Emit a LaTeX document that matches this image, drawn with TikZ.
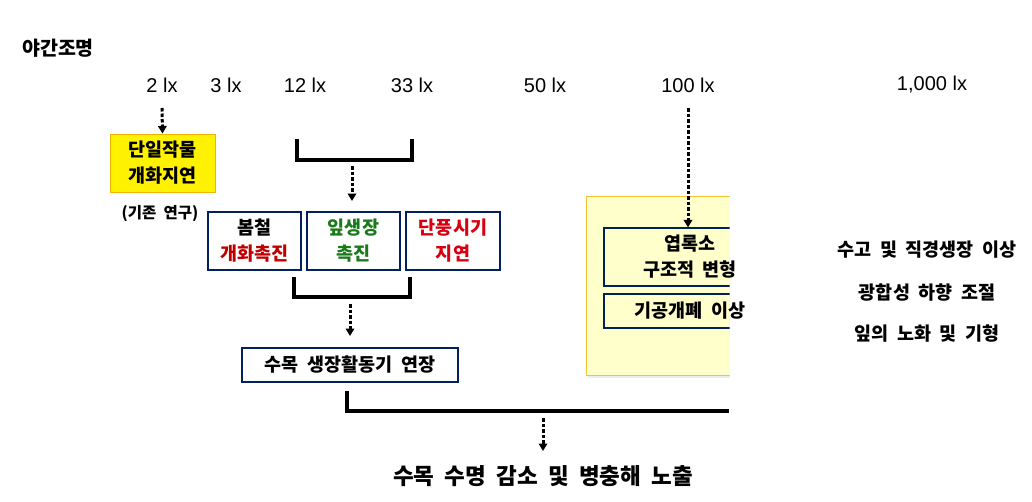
\documentclass[tikz,border=0pt]{standalone}
\usepackage{fontspec}
\setmainfont{Liberation Sans}
\newfontfamily\kr{Noto Sans CJK KR}[WordSpace=2]
\usetikzlibrary{arrows.meta,shadows}
\definecolor{navy}{HTML}{002060}
\definecolor{gold}{HTML}{F0B400}
\definecolor{paleyel}{HTML}{FFFFCC}
\definecolor{darkred}{HTML}{C00000}
\definecolor{brred}{HTML}{D80010}
\definecolor{leafgreen}{HTML}{1A7A1A}
\tikzset{
  lx/.style={font=\fontsize{20}{20}\selectfont, inner sep=0pt},
  kt/.style={font=\kr\bfseries\fontsize{18.5}{26}\selectfont, align=center, inner sep=0pt},
  nbox/.style={draw=navy, line width=1.2pt, minimum height=58pt, align=center, inner sep=0pt, font=\kr\bfseries\fontsize{18.5}{26}\selectfont},
  dotarrow/.style={line width=3pt, dash pattern=on 3.5pt off 2pt, -{Triangle[width=8.5pt,length=7.5pt]}},
  bracket/.style={line width=3.2pt, line cap=butt, line join=miter},
}
\begin{document}
\begin{tikzpicture}[x=1pt,y=-1pt]
\useasboundingbox (0,0) rectangle (1032,501);
% title
\node[kt, font=\kr\bfseries\fontsize{19.5}{19.5}\selectfont] (title) at (58,48) {야간조명};
% lux labels
\node[lx] (l2) at (162,85) {2 lx};
\node[lx] (l3) at (226,85) {3 lx};
\node[lx] (l12) at (305,85) {12 lx};
\node[lx] (l33) at (412,85) {33 lx};
\node[lx] (l50) at (545,85) {50 lx};
\node[lx] (l100) at (688,85) {100 lx};
\node[lx] (l1000) at (932,85) {1,000 lx};
% single crop box
\node[draw=gold, fill=yellow, line width=1pt, minimum width=105pt, minimum height=58pt, align=center, inner sep=0pt, font=\kr\bfseries\fontsize{18.5}{26}\selectfont] (crop) at (162.5,163) {단일작물\\개화지연};
\node[kt, font=\kr\bfseries\fontsize{15.5}{15.5}\selectfont] (prev) at (160,214) {(기존 연구)};
\coordinate (a1s) at (162,108);
\draw[dotarrow] (a1s) -- (crop.north);
% bracket 1
\coordinate (b1a) at (297,139);
\coordinate (b1b) at (297,160);
\coordinate (b1c) at (412,160);
\coordinate (b1d) at (412,139);
\draw[bracket] (b1a) -- (b1b) -- (b1c) -- (b1d);
\coordinate (a2s) at (352,166);
\coordinate (a2e) at (352,201);
\draw[dotarrow] (a2s) -- (a2e);
% three boxes
\node[nbox, minimum width=93pt] (spring) at (254.5,241) {봄철\\\textcolor{darkred}{개화촉진}};
\node[nbox, minimum width=93pt, text=leafgreen] (leaf) at (353.5,241) {잎생장\\촉진};
\node[nbox, minimum width=94pt, text=brred] (autumn) at (453,241) {단풍시기\\지연};
% bracket 2
\coordinate (b2a) at (294,277);
\coordinate (b2b) at (294,297);
\coordinate (b2c) at (410,297);
\coordinate (b2d) at (410,277);
\draw[bracket] (b2a) -- (b2b) -- (b2c) -- (b2d);
\coordinate (a3s) at (350,304);
\coordinate (a3e) at (350,336);
\draw[dotarrow] (a3s) -- (a3e);
\node[nbox, minimum width=216pt, minimum height=34pt] (season) at (350,365) {수목 생장활동기 연장};
% right yellow panel (clipped)
\begin{scope}
\clip (575,185) rectangle (729.5,390);
\node[draw=gold!80, fill=paleyel, line width=1pt, minimum width=220pt, minimum height=179pt, inner sep=0pt,
      drop shadow={opacity=0.15, shadow xshift=2pt, shadow yshift=-3pt}] (panel) at (696,285.5) {};
\node[nbox, minimum width=172pt, minimum height=58pt] (chloro) at (690,257) {};
\node[nbox, minimum width=172pt, minimum height=34pt] (stoma) at (690,311) {};
\end{scope}
\node[kt] (chlorot) at (chloro.center) {엽록소\\구조적 변형};
\node[kt] (stomat) at (stoma.center) {기공개폐 이상};
\coordinate (a4s) at (688,108);
\draw[dotarrow] (a4s) -- (chloro.north -| a4s);
% right effects
\node[kt] (height) at (927,250) {수고 및 직경생장 이상};
\node[kt] (photo) at (927,293) {광합성 하향 조절};
\node[kt] (aging) at (927,334) {잎의 노화 및 기형};
% bracket 3
\coordinate (b3a) at (347,391);
\coordinate (b3b) at (347,411);
\coordinate (b3c) at (729,411);
\draw[bracket] (b3a) -- (b3b) -- (b3c);
\coordinate (a5s) at (543,418);
\coordinate (a5e) at (543,451);
\draw[dotarrow] (a5s) -- (a5e);
\node[kt, font=\kr\bfseries\fontsize{22.5}{22.5}\selectfont] (final) at (543,476) {수목 수명 감소 및 병충해 노출};
\end{tikzpicture}
\end{document}
